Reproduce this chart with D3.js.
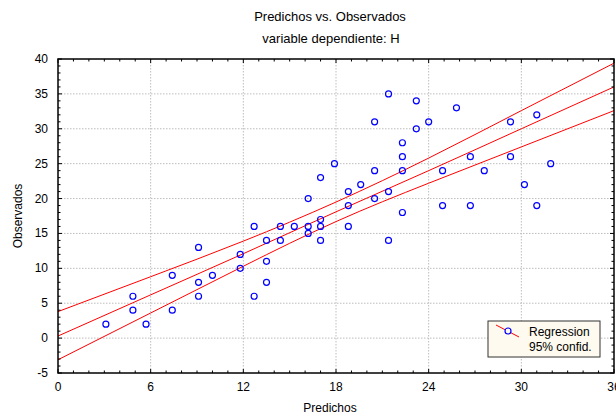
<!DOCTYPE html>
<html>
<head>
<meta charset="utf-8">
<script src="https://cdn.jsdelivr.net/npm/d3@7"></script>
<style>
  body { margin: 0; background: #fff; }
  svg { display: block; font-family: "Liberation Sans", Arial, sans-serif; }
</style>
</head>
<body>
<svg id="chart" width="616" height="416"></svg>
<script>
// Datos
const predichos = [3.1, 4.85, 4.85, 5.7, 7.4, 7.4, 9.1, 9.1, 9.1, 10.0, 11.8, 11.8, 12.7, 12.7,
  13.5, 13.5, 13.5, 14.4, 14.4, 15.3, 16.2, 16.2, 16.2, 17.0, 17.0, 17.0, 17.0, 17.9,
  18.8, 18.8, 18.8, 19.6, 20.5, 20.5, 20.5, 21.4, 21.4, 21.4, 22.3, 22.3, 22.3, 22.3,
  23.2, 23.2, 24.0, 24.9, 24.9, 25.8, 26.7, 26.7, 27.6, 29.3, 29.3, 30.2, 31.0, 31.0, 31.9];
const observados = [2, 6, 4, 2, 9, 4, 13, 8, 6, 9, 12, 10, 16, 6,
  14, 11, 8, 16, 14, 16, 20, 16, 15, 23, 17, 16, 14, 25,
  21, 19, 16, 22, 31, 24, 20, 35, 21, 14, 28, 26, 24, 18,
  34, 30, 31, 24, 19, 33, 26, 19, 24, 31, 26, 22, 32, 19, 25];

// Recta de regresion y banda de confianza 95%
const bandaX = [0, 6, 12, 18, 24, 30, 36];
const regresion = [0.3, 6.2, 12.1, 18.1, 24.0, 30.0, 36.0];
const confSup = [3.8, 8.8, 13.9, 19.5, 25.8, 32.6, 39.4];
const confInf = [-3.1, 3.6, 10.3, 16.7, 22.2, 27.4, 32.6];

const xTicks = [0, 6, 12, 18, 24, 30, 36];
const yTicks = [-5, 0, 5, 10, 15, 20, 25, 30, 35, 40];
const legendLabels = ["Regression", "95% confid."];

const width = 616, height = 416;
const margin = { top: 59, right: 2, bottom: 43, left: 58 };
const innerW = width - margin.left - margin.right;
const innerH = height - margin.top - margin.bottom;

const svg = d3.select("#chart");

const x = d3.scaleLinear().domain([0, 36]).range([0, innerW]);
const y = d3.scaleLinear().domain([-5, 40]).range([innerH, 0]);

const g = svg.append("g").attr("transform", `translate(${margin.left},${margin.top})`);

svg.append("defs").append("clipPath").attr("id", "clip")
  .append("rect").attr("width", innerW).attr("height", innerH);

// Rejilla punteada
g.append("g").selectAll("line").data(xTicks.slice(1, -1)).join("line")
  .attr("x1", d => x(d)).attr("x2", d => x(d))
  .attr("y1", 0).attr("y2", innerH)
  .attr("stroke", "#bdbdbd").attr("stroke-dasharray", "1.5,1.5");
g.append("g").selectAll("line").data(yTicks.slice(1, -1)).join("line")
  .attr("y1", d => y(d)).attr("y2", d => y(d))
  .attr("x1", 0).attr("x2", innerW)
  .attr("stroke", "#bdbdbd").attr("stroke-dasharray", "1.5,1.5");

// Lineas rojas
const line = d3.line().x(d => x(d[0])).y(d => y(d[1])).curve(d3.curveNatural);
const lines = g.append("g").attr("clip-path", "url(#clip)");
[confSup, regresion, confInf].forEach(serie => {
  lines.append("path").datum(bandaX.map((v, i) => [v, serie[i]]))
    .attr("fill", "none").attr("stroke", "#ff0000").attr("stroke-width", 1)
    .attr("d", line);
});

// Puntos
g.append("g").selectAll("circle").data(predichos).join("circle")
  .attr("cx", d => x(d))
  .attr("cy", (d, i) => y(observados[i]))
  .attr("r", 3)
  .attr("fill", "none").attr("stroke", "#0000ff").attr("stroke-width", 1.2);

// Marco y marcas hacia adentro
const minorX = d3.range(0, 37, 1), minorY = d3.range(-5, 41, 1);
const tickG = g.append("g").attr("stroke", "#000");
minorX.forEach(v => {
  const len = v % 6 === 0 ? 4 : 2.5;
  tickG.append("line").attr("x1", x(v)).attr("x2", x(v)).attr("y1", innerH).attr("y2", innerH - len);
  tickG.append("line").attr("x1", x(v)).attr("x2", x(v)).attr("y1", 0).attr("y2", len);
});
minorY.forEach(v => {
  const len = v % 5 === 0 ? 4 : 2.5;
  tickG.append("line").attr("y1", y(v)).attr("y2", y(v)).attr("x1", 0).attr("x2", len);
  tickG.append("line").attr("y1", y(v)).attr("y2", y(v)).attr("x1", innerW).attr("x2", innerW - len);
});
g.append("rect").attr("width", innerW).attr("height", innerH)
  .attr("fill", "none").attr("stroke", "#000").attr("stroke-width", 1.5);

// Etiquetas de ejes
g.append("g").selectAll("text").data(xTicks).join("text")
  .attr("x", d => x(d)).attr("y", innerH + 18)
  .attr("text-anchor", "middle").attr("font-size", 12).text(d => d);
g.append("g").selectAll("text").data(yTicks).join("text")
  .attr("x", -10).attr("y", d => y(d) + 4)
  .attr("text-anchor", "end").attr("font-size", 12).text(d => d);

// Titulos
svg.append("text").attr("x", 330).attr("y", 21).attr("text-anchor", "middle")
  .attr("font-size", 13).text("Predichos vs. Observados");
svg.append("text").attr("x", 331).attr("y", 43).attr("text-anchor", "middle")
  .attr("font-size", 13).text("variable dependiente: H");
svg.append("text").attr("x", 330).attr("y", 412).attr("text-anchor", "middle")
  .attr("font-size", 12).text("Predichos");
svg.append("text").attr("transform", "translate(22,216) rotate(-90)")
  .attr("text-anchor", "middle").attr("font-size", 12).text("Observados");

// Leyenda
const lg = svg.append("g").attr("transform", "translate(488,321)");
lg.append("rect").attr("width", 112).attr("height", 36)
  .attr("fill", "#fffaf0").attr("stroke", "#333").attr("stroke-width", 1);
lg.append("line").attr("x1", 8).attr("y1", 4).attr("x2", 31).attr("y2", 16)
  .attr("stroke", "#ff0000");
lg.append("circle").attr("cx", 20).attr("cy", 10).attr("r", 3)
  .attr("fill", "#fffaf0").attr("stroke", "#0000ff").attr("stroke-width", 1.2);
lg.selectAll("text.lab").data(legendLabels).join("text")
  .attr("x", 41).attr("y", (d, i) => 15 + i * 15)
  .attr("font-size", 12).text(d => d);
</script>
</body>
</html>
